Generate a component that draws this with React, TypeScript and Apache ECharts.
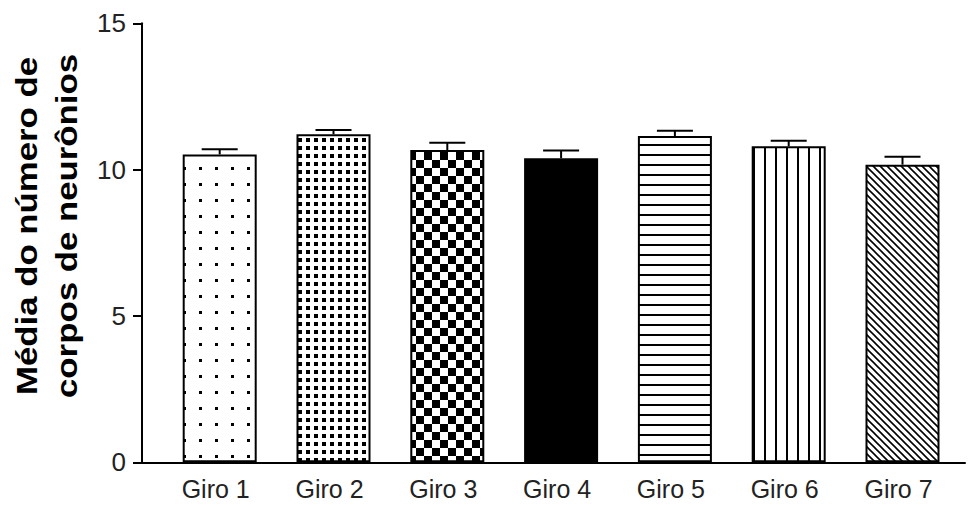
import React, { useEffect, useRef } from 'react';
import * as echarts from 'echarts';

const categories = ['Giro 1', 'Giro 2', 'Giro 3', 'Giro 4', 'Giro 5', 'Giro 6', 'Giro 7'];
const means = [10.52, 11.21, 10.67, 10.39, 11.15, 10.8, 10.17];
const sems = [0.18, 0.14, 0.25, 0.26, 0.18, 0.19, 0.27];
const yMin = 0;
const yMax = 15;
const yInterval = 5;
const yTitleLines = ['Média do número de', 'corpos de neurônios'];

const FONT = '"Liberation Sans", Arial, Helvetica, sans-serif';

type Tile = { size: number; draw: (ctx: CanvasRenderingContext2D, s: number) => void } | null;

const tiles: Tile[] = [
  { size: 16, draw: (c) => c.fillRect(7, 7, 3, 3) },
  { size: 8, draw: (c) => c.fillRect(2, 2, 4, 4) },
  { size: 16, draw: (c) => { c.fillRect(0, 0, 8, 8); c.fillRect(8, 8, 8, 8); } },
  null,
  { size: 10, draw: (c) => c.fillRect(0, 4, 10, 2) },
  { size: 11, draw: (c) => c.fillRect(5, 0, 2, 11) },
  {
    size: 7,
    draw: (c, s) => {
      c.lineWidth = 1.6;
      c.beginPath();
      c.moveTo(-2, -2); c.lineTo(s + 2, s + 2);
      c.moveTo(s - 2, -2); c.lineTo(s + 2, 2);
      c.moveTo(-2, s - 2); c.lineTo(2, s + 2);
      c.stroke();
    },
  },
];

function makePattern(t: Tile, ox: number, oy: number): any {
  if (!t) return '#000';
  const c = document.createElement('canvas');
  c.width = t.size;
  c.height = t.size;
  const ctx = c.getContext('2d')!;
  ctx.fillStyle = '#fff';
  ctx.fillRect(0, 0, t.size, t.size);
  ctx.fillStyle = '#000';
  ctx.strokeStyle = '#000';
  t.draw(ctx, t.size);
  return { image: c, repeat: 'repeat', imageWidth: t.size, imageHeight: t.size, x: ox, y: oy };
}

export default function App() {
  const ref = useRef<HTMLDivElement>(null);
  useEffect(() => {
    if (!ref.current) return;
    const chart = echarts.init(ref.current, undefined, { renderer: 'svg' });
    const barWidth = 74;
    const buildBarData = (offsets: number[][] | null) =>
      means.map((v, i) => ({
        value: v,
        itemStyle: {
          color: makePattern(tiles[i], offsets ? offsets[i][0] : 0, offsets ? offsets[i][1] : 0),
          borderColor: '#000',
          borderWidth: 2,
        },
      }));
    const option: any = {
      animation: false,
      backgroundColor: '#fff',
      grid: [
        { left: 162.8, width: 796.6, top: 23.3, bottom: 42.7 },
        { left: 142, right: 5, top: 23.3, bottom: 42.7 },
      ],
      xAxis: [
        {
          type: 'category',
          gridIndex: 0,
          data: categories,
          axisLine: { show: false },
          axisTick: { show: false },
          axisLabel: {
            fontSize: 25,
            lineHeight: 22,
            fontFamily: FONT,
            color: '#222',
            margin: 16,
            padding: [0, 8, 0, 0],
          },
        },
        {
          type: 'value',
          gridIndex: 1,
          min: 0,
          max: 1,
          axisLine: { show: true, lineStyle: { color: '#000', width: 2 } },
          axisTick: { show: false },
          axisLabel: { show: false },
          splitLine: { show: false },
        },
      ],
      yAxis: [
        {
          type: 'value',
          gridIndex: 0,
          min: yMin,
          max: yMax,
          interval: yInterval,
          show: false,
        },
        {
          type: 'value',
          gridIndex: 1,
          min: yMin,
          max: yMax,
          interval: yInterval,
          axisLine: { show: true, lineStyle: { color: '#000', width: 2 } },
          axisTick: { show: true, length: 9, lineStyle: { color: '#000', width: 2 } },
          axisLabel: { fontSize: 26, fontFamily: FONT, color: '#222', margin: 16 },
          splitLine: { show: false },
        },
      ],
      graphic: [
        {
          type: 'text',
          x: 47,
          y: 226,
          rotation: Math.PI / 2,
          scaleX: 1.2,
          style: {
            text: yTitleLines.join('\n'),
            fontSize: 29,
            fontWeight: 'bold',
            fontFamily: FONT,
            fill: '#000',
            align: 'center',
            verticalAlign: 'middle',
            lineHeight: 40,
          },
        },
      ],
      series: [
        {
          type: 'bar',
          xAxisIndex: 0,
          yAxisIndex: 0,
          barWidth,
          data: buildBarData(null),
          z: 2,
        },
        {
          type: 'custom',
          xAxisIndex: 0,
          yAxisIndex: 0,
          z: 3,
          data: means.map((m, i) => [i, m, sems[i]]),
          encode: { x: 0, y: [1] },
          renderItem: (_p: any, api: any) => {
            const x = api.value(0);
            const m = api.value(1);
            const s = api.value(2);
            const base = api.coord([x, m]);
            const top = api.coord([x, m + s]);
            const half = 18;
            return {
              type: 'group',
              children: [
                { type: 'line', shape: { x1: base[0], y1: base[1], x2: top[0], y2: top[1] }, style: { stroke: '#000', lineWidth: 2 } },
                { type: 'line', shape: { x1: top[0] - half, y1: top[1], x2: top[0] + half, y2: top[1] }, style: { stroke: '#000', lineWidth: 2 } },
              ],
            };
          },
        },
      ],
    };
    chart.setOption(option);
    // align pattern tiles to each bar's top-left corner using the library's scales
    const offsets = means.map((v, i) => {
      const p = chart.convertToPixel({ xAxisIndex: 0, yAxisIndex: 0 }, [i, v]) as number[];
      const left = p[0] - barWidth / 2;
      return [left, p[1]];
    });
    const shifted = offsets.map((o, i) => {
      if (i === 5) return [o[0] + 5, 0];
      if (i === 4) return [0, o[1] + 5.5];
      return [o[0], o[1]];
    });
    chart.setOption({ series: [{ data: buildBarData(shifted) }] });
    return () => chart.dispose();
  }, []);
  return (
    <div
      ref={ref}
      style={{ position: 'absolute', left: 0, top: 0, width: 970, height: 505, background: '#fff' }}
    />
  );
}
